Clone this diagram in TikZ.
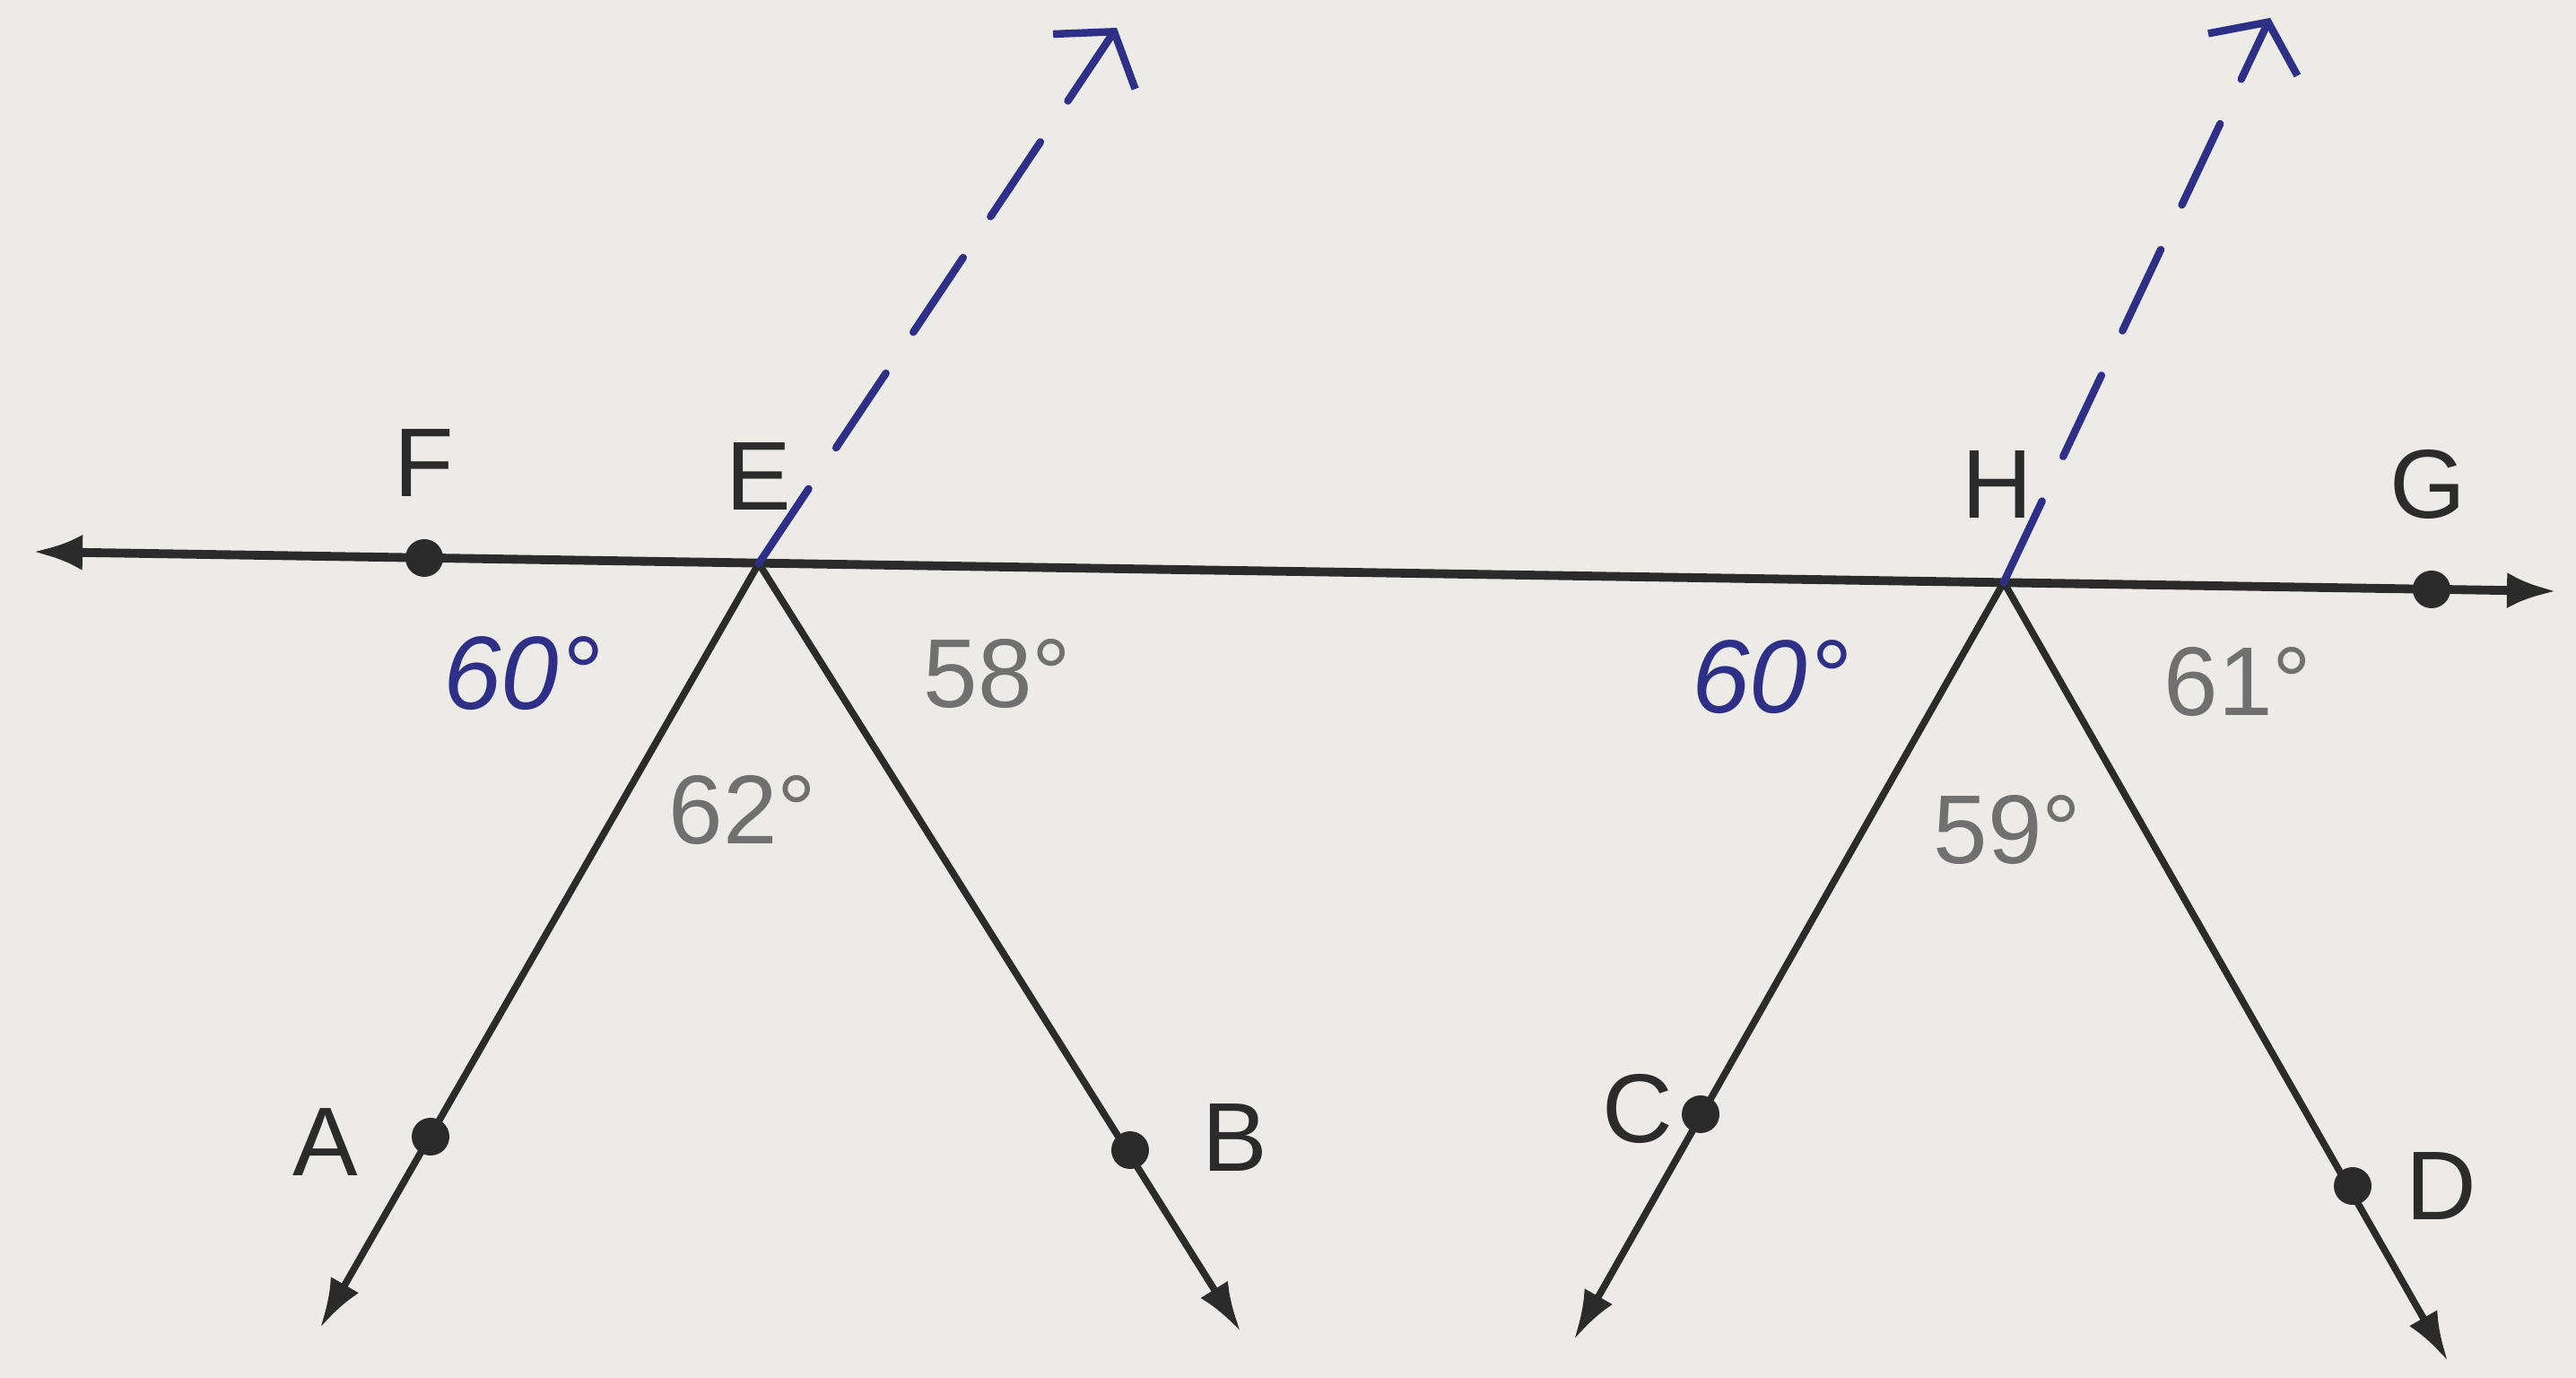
\documentclass[tikz,border=0pt]{standalone}
\usepackage{fontspec}
\setmainfont{Liberation Sans}
\usetikzlibrary{arrows.meta}
\definecolor{paper}{HTML}{ECEBE7}
\definecolor{ink}{HTML}{2B2B2B}
\definecolor{print}{HTML}{707070}
\definecolor{pen}{HTML}{2E2F86}

\begin{document}
\begin{tikzpicture}[line cap=round,
  dot/.style={circle,fill=ink,inner sep=0pt,minimum size=0.42cm},
  mainline/.style={draw=ink,line width=2.8pt},
  ray/.style={draw=ink,line width=2.2pt,-{Latex[length=0.55cm,width=0.36cm]}},
  letter/.style={text=ink,font=\fontsize{31}{37}\selectfont},
  angle/.style={text=print,font=\fontsize{31}{37}\selectfont},
  penangle/.style={text=pen,font=\fontsize{33}{39}\selectfont\itshape},
  penray/.style={draw=pen,line width=2.4pt,dash pattern=on 1.0cm off 0.55cm,-{Straight Barb[length=0.4cm,width=1.1cm,line width=2.4pt]}}]

\fill[paper] (0,0) rectangle (28.72,15.36);

\coordinate (lt) at (0.37,9.21);
\coordinate (rt) at (28.50,8.77);
\coordinate (tipA) at (3.57,0.56);
\coordinate (tipB) at (13.83,0.52);
\coordinate (tipC) at (17.55,0.43);
\coordinate (tipD) at (27.29,0.19);
\coordinate (tipE) at (12.45,15.05);
\coordinate (tipH) at (25.31,15.16);

\node[dot] (F) at (4.73,9.14) {};
\node[inner sep=0pt] (E) at (8.46,9.08) {};
\node[inner sep=0pt] (H) at (22.34,8.87) {};
\node[dot] (G) at (27.11,8.79) {};
\node[dot] (A) at (4.80,2.69) {};
\node[dot] (B) at (12.60,2.54) {};
\node[dot] (C) at (18.96,2.94) {};
\node[dot] (D) at (26.23,2.14) {};

\draw[mainline,{Latex[length=0.55cm,width=0.4cm]}-{Latex[length=0.55cm,width=0.4cm]}] (lt) -- (rt);
\draw[ray] (E.center) -- (tipA);
\draw[ray] (E.center) -- (tipB);
\draw[ray] (H.center) -- (tipC);
\draw[ray] (H.center) -- (tipD);

\draw[penray] (E.center) -- (tipE);
\draw[penray] (H.center) -- (tipH);

\node[letter] (lblF) at (4.73,10.20) {F};
\node[letter] (lblE) at (8.46,10.05) {E};
\node[letter] (lblH) at (22.27,9.96) {H};
\node[letter] (lblG) at (27.07,9.96) {G};
\node[letter] (lblA) at (3.63,2.63) {A};
\node[letter] (lblB) at (13.77,2.68) {B};
\node[letter] (lblC) at (18.26,3.00) {C};
\node[letter] (lblD) at (27.22,2.14) {D};

\node[penangle] (angFEA) at (5.82,7.85) {60°};
\node[angle] (angBEG) at (11.12,7.85) {58°};
\node[angle] (angAEB) at (8.28,6.33) {62°};
\node[penangle] (angFHC) at (19.74,7.81) {60°};
\node[angle] (angDHG) at (24.95,7.76) {61°};
\node[angle] (angCHD) at (22.38,6.11) {59°};
\end{tikzpicture}
\end{document}
